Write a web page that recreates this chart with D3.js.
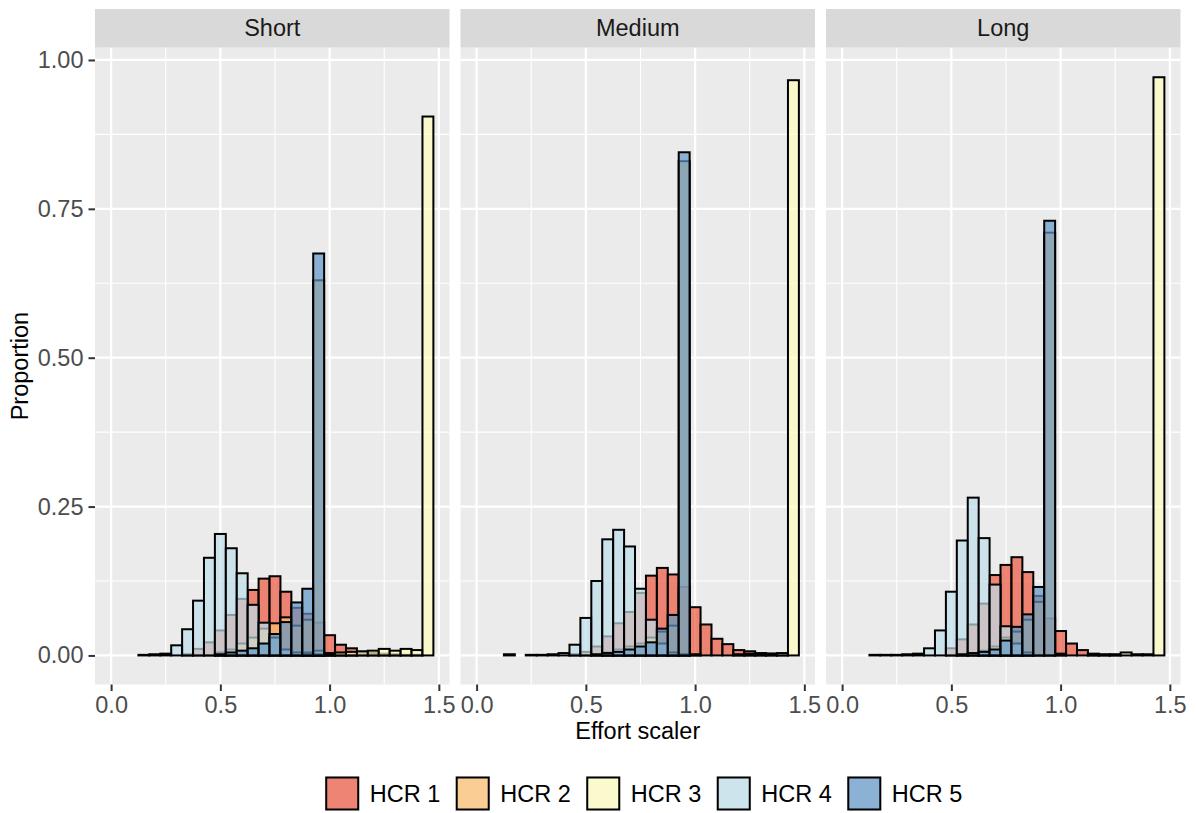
<!DOCTYPE html>
<html><head><meta charset="utf-8">
<script src="https://cdn.jsdelivr.net/npm/d3@7"></script>
<style>body{margin:0;background:#fff}svg{display:block;font-family:"Liberation Sans",Arial,sans-serif}</style>
</head><body><svg id="c" width="1196" height="813"></svg>
<script>
const panels = ["Short", "Medium", "Long"];
const hcrs = ["HCR 1", "HCR 2", "HCR 3", "HCR 4", "HCR 5"];
const binCenters = [0.15,0.20,0.25,0.30,0.35,0.40,0.45,0.50,0.55,0.60,0.65,0.70,0.75,0.80,0.85,0.90,0.95,1.00,1.05,1.10,1.15,1.20,1.25,1.30,1.35,1.40,1.45];
const binWidth = 0.05;
const xTicks = [0.0, 0.5, 1.0, 1.5];
const xTickLabels = ["0.0", "0.5", "1.0", "1.5"];
const yTicks = [0, 0.25, 0.5, 0.75, 1.0];
const yTickLabels = ["0.00", "0.25", "0.50", "0.75", "1.00"];

// proportions per bin (order of binCenters), per panel
const shortHCR1 = [0,0,0,0,0.002,0.011,0.022,0.042,0.068,0.095,0.110,0.129,0.133,0.107,0.080,0.070,0.055,0.034,0.018,0.012,0.005,0.004,0.003,0.002,0.001,0.001,0];
const shortHCR2 = [0,0,0,0,0,0,0,0.005,0.010,0.020,0.030,0.045,0.054,0.064,0.050,0.060,0.630,0.004,0.002,0.001,0,0,0,0,0,0,0];
const shortHCR3 = [0,0,0,0,0,0,0,0,0,0,0,0,0,0,0,0.005,0.008,0.004,0.005,0.006,0.007,0.008,0.011,0.008,0.011,0.009,0.905];
const shortHCR4 = [0.001,0.002,0.003,0.017,0.044,0.092,0.164,0.204,0.180,0.138,0.085,0.055,0.030,0.010,0.005,0.003,0.002,0,0,0,0,0,0,0,0,0,0];
const shortHCR5 = [0,0,0,0,0,0,0,0.002,0.005,0.008,0.012,0.020,0.036,0.056,0.089,0.112,0.675,0.003,0,0,0,0,0,0,0,0,0];

const mediumHCR1 = [0.002,0,0,0,0,0,0.002,0.006,0.015,0.032,0.054,0.073,0.105,0.134,0.147,0.136,0.115,0.081,0.052,0.028,0.019,0.009,0.007,0.004,0.003,0.002,0];
const mediumHCR2 = [0,0,0,0,0,0,0,0,0,0.005,0.010,0.015,0.020,0.030,0.040,0.050,0.830,0.002,0,0,0,0,0,0,0,0,0];
const mediumHCR3 = [0,0,0,0,0,0,0,0,0,0,0,0,0,0,0,0,0,0,0,0,0,0.002,0.003,0.003,0.003,0.004,0.966];
const mediumHCR4 = [0,0,0.001,0.001,0.002,0.004,0.018,0.063,0.125,0.195,0.211,0.183,0.112,0.060,0.020,0.005,0.002,0,0,0,0,0,0,0,0,0,0];
const mediumHCR5 = [0,0,0,0,0,0,0,0,0.002,0.004,0.006,0.010,0.015,0.022,0.045,0.068,0.845,0,0,0,0,0,0,0,0,0,0];

const longHCR1 = [0,0,0,0,0,0,0,0.012,0.027,0.052,0.087,0.135,0.152,0.165,0.140,0.100,0.062,0.041,0.020,0.009,0.003,0.002,0.001,0,0,0,0];
const longHCR2 = [0,0,0,0,0,0,0,0,0,0,0.008,0.015,0.030,0.040,0.060,0.090,0.710,0.003,0,0,0,0,0,0,0,0,0];
const longHCR3 = [0,0,0,0,0,0,0,0,0,0,0,0,0,0,0,0,0,0,0,0,0.001,0.001,0.002,0.005,0.002,0.002,0.971];
const longHCR4 = [0.001,0.001,0.001,0.002,0.003,0.012,0.042,0.107,0.193,0.265,0.197,0.119,0.049,0.020,0.005,0,0,0,0,0,0,0,0,0,0,0,0];
const longHCR5 = [0,0,0,0,0,0,0,0,0.002,0.004,0.006,0.010,0.025,0.048,0.069,0.115,0.730,0,0,0,0,0,0,0,0,0,0];

const panelData = {
  "Short": [shortHCR1, shortHCR2, shortHCR3, shortHCR4, shortHCR5],
  "Medium": [mediumHCR1, mediumHCR2, mediumHCR3, mediumHCR4, mediumHCR5],
  "Long": [longHCR1, longHCR2, longHCR3, longHCR4, longHCR5]
};

const fills = ["#EC563D", "#FDBD6C", "#FFFDBD", "#BDDEE9", "#6097C7"];
const fillOpacity = 0.7;

const svg = d3.select("#c");
const FS = 23.5;
const panelLeft = 95, panelW = 354.5, panelGap = 11;
const stripTop = 9, stripBot = 47.7, panelBot = 684.5;

const y = d3.scaleLinear().domain([-0.0488, 1.0206]).range([panelBot, stripBot]);
const color = d3.scaleOrdinal().domain(hcrs).range(fills);

panels.forEach((p, pi) => {
  const x0 = panelLeft + pi * (panelW + panelGap);
  const x = d3.scaleLinear().domain([-0.07375, 1.54875]).range([x0, x0 + panelW]);
  const g = svg.append("g");
  // strip
  g.append("rect").attr("x", x0).attr("y", stripTop).attr("width", panelW).attr("height", stripBot - stripTop).attr("fill", "#D9D9D9");
  g.append("text").attr("x", x0 + panelW / 2).attr("y", (stripTop + stripBot) / 2).attr("text-anchor", "middle")
    .attr("dominant-baseline", "central").attr("font-size", FS).attr("fill", "#1A1A1A").text(p);
  // panel
  g.append("rect").attr("x", x0).attr("y", stripBot).attr("width", panelW).attr("height", panelBot - stripBot).attr("fill", "#EBEBEB");
  const minorX = [0.25, 0.75, 1.25];
  const minorY = [0.125, 0.375, 0.625, 0.875];
  g.selectAll(".mx").data(minorX).join("line").attr("x1", d => x(d)).attr("x2", d => x(d)).attr("y1", stripBot).attr("y2", panelBot).attr("stroke", "#fff").attr("stroke-width", 1.1);
  g.selectAll(".my").data(minorY).join("line").attr("x1", x0).attr("x2", x0 + panelW).attr("y1", d => y(d)).attr("y2", d => y(d)).attr("stroke", "#fff").attr("stroke-width", 1.1);
  g.selectAll(".Mx").data(xTicks).join("line").attr("x1", d => x(d)).attr("x2", d => x(d)).attr("y1", stripBot).attr("y2", panelBot).attr("stroke", "#fff").attr("stroke-width", 2.2);
  g.selectAll(".My").data(yTicks).join("line").attr("x1", x0).attr("x2", x0 + panelW).attr("y1", d => y(d)).attr("y2", d => y(d)).attr("stroke", "#fff").attr("stroke-width", 2.2);

  // bars, HCR1 first, HCR5 last
  panelData[p].forEach((vals, hi) => {
    const bars = binCenters.map((c, i) => ({c, v: vals[i]})).filter(d => d.v > 0);
    g.append("g").selectAll("rect").data(bars).join("rect")
      .attr("x", d => x(d.c - binWidth / 2))
      .attr("width", d => x(d.c + binWidth / 2) - x(d.c - binWidth / 2))
      .attr("y", d => y(d.v))
      .attr("height", d => y(0) - y(d.v))
      .attr("fill", color(hcrs[hi])).attr("fill-opacity", fillOpacity)
      .attr("stroke", "#000").attr("stroke-width", 2);
  });

  // x axis
  const ax = d3.axisBottom(x).tickValues(xTicks).tickFormat((d, i) => xTickLabels[i]).tickSize(6.5).tickPadding(5);
  const axg = g.append("g").attr("transform", `translate(0,${panelBot})`).call(ax);
  axg.select(".domain").remove();
  axg.selectAll(".tick line").attr("stroke", "#333").attr("stroke-width", 2);
  axg.selectAll(".tick text").attr("font-size", FS).attr("fill", "#4D4D4D").attr("font-family", "Liberation Sans, Arial, sans-serif");

  if (pi === 0) {
    const ay = d3.axisLeft(y).tickValues(yTicks).tickFormat((d, i) => yTickLabels[i]).tickSize(6.5).tickPadding(5);
    const ayg = g.append("g").attr("transform", `translate(${x0},0)`).call(ay);
    ayg.select(".domain").remove();
    ayg.selectAll(".tick line").attr("stroke", "#333").attr("stroke-width", 2);
    ayg.selectAll(".tick text").attr("font-size", FS).attr("fill", "#4D4D4D").attr("font-family", "Liberation Sans, Arial, sans-serif");
  }
});

// axis titles
const centerX = panelLeft + (3 * panelW + 2 * panelGap) / 2;
svg.append("text").attr("x", centerX).attr("y", 731).attr("text-anchor", "middle").attr("dominant-baseline", "central")
  .attr("font-size", FS).attr("fill", "#000").text("Effort scaler");
svg.append("text").attr("transform", `translate(20,${(stripBot + panelBot) / 2}) rotate(-90)`).attr("text-anchor", "middle")
  .attr("dominant-baseline", "central").attr("font-size", FS).attr("fill", "#000").text("Proportion");

// legend
const keyS = 35, keyGap = 10, itemGap = 15, legY = 776;
const leg = svg.append("g");
const items = [];
hcrs.forEach((h, i) => {
  const it = leg.append("g");
  it.append("rect").attr("x", 0).attr("y", 0).attr("width", keyS).attr("height", keyS).attr("fill", "#F2F2F2");
  it.append("rect").attr("x", 1.5).attr("y", 1.5).attr("width", keyS - 3).attr("height", keyS - 3)
    .attr("fill", color(h)).attr("fill-opacity", fillOpacity).attr("stroke", "#000").attr("stroke-width", 2);
  const t = it.append("text").attr("x", keyS + keyGap).attr("y", keyS / 2).attr("dominant-baseline", "central")
    .attr("font-size", FS).attr("fill", "#000").text(h);
  const w = t.node().getComputedTextLength();
  items.push({it, w});
});
let total = items.reduce((s, d) => s + keyS + keyGap + d.w, 0) + itemGap * (items.length - 1);
let start = 643.5 - total / 2;
items.forEach(d => {
  d.it.attr("transform", `translate(${start},${legY})`);
  start += keyS + keyGap + d.w + itemGap;
});
</script></body></html>
